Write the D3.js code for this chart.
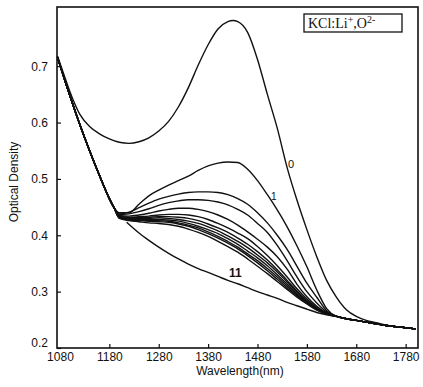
<!DOCTYPE html>
<html>
<head>
<meta charset="UTF-8">
<style>
  body { margin: 0; background: #fff; }
  svg text { font-family: "Liberation Sans", Arial, sans-serif; fill: #111; }
  .curve { fill: none; stroke: #111; stroke-width: 1.4px; }
</style>
<script src="https://cdn.jsdelivr.net/npm/d3@7/dist/d3.min.js"></script>
</head>
<body>
<svg width="423" height="387"></svg>
<script>
// shared steep wing (all curves 1..11) and shared tail
var wlWing = [1075, 1100, 1120, 1140, 1160, 1180, 1190];
var odWing = [0.716, 0.648, 0.597, 0.550, 0.506, 0.465, 0.448];
var wlTail = [1660, 1680, 1700, 1720, 1740, 1760, 1780, 1800];
var odTail = [0.252, 0.249, 0.246, 0.243, 0.240, 0.238, 0.236, 0.234];

// middle part of curves 1..11
var wlMid = [1200, 1220, 1240, 1260, 1280, 1300, 1320, 1340, 1360, 1380, 1400, 1420,
             1440, 1460, 1480, 1500, 1520, 1540, 1560, 1580, 1600, 1620, 1640];
var od1  = [0.440, 0.440, 0.455, 0.470, 0.480, 0.489, 0.497, 0.505, 0.515, 0.523, 0.528, 0.530,
            0.529, 0.517, 0.497, 0.472, 0.445, 0.415, 0.381, 0.344, 0.303, 0.270, 0.256];
var od2  = [0.438, 0.441, 0.449, 0.457, 0.464, 0.469, 0.473, 0.476, 0.477, 0.477, 0.476, 0.472,
            0.465, 0.455, 0.440, 0.422, 0.400, 0.375, 0.345, 0.315, 0.290, 0.266, 0.256];
var od3  = [0.437, 0.438, 0.442, 0.447, 0.453, 0.458, 0.461, 0.463, 0.463, 0.462, 0.459, 0.454,
            0.446, 0.436, 0.421, 0.405, 0.382, 0.355, 0.326, 0.300, 0.280, 0.264, 0.256];
var od4  = [0.435, 0.434, 0.436, 0.439, 0.443, 0.446, 0.448, 0.448, 0.446, 0.442, 0.436, 0.428,
            0.418, 0.406, 0.393, 0.379, 0.362, 0.340, 0.313, 0.291, 0.274, 0.262, 0.256];
var od5  = [0.434, 0.432, 0.433, 0.434, 0.436, 0.437, 0.437, 0.436, 0.433, 0.428, 0.421, 0.413,
            0.404, 0.394, 0.380, 0.364, 0.346, 0.326, 0.305, 0.287, 0.272, 0.262, 0.256];
var od6  = [0.433, 0.431, 0.431, 0.432, 0.433, 0.433, 0.432, 0.430, 0.426, 0.420, 0.413, 0.405,
            0.395, 0.384, 0.371, 0.356, 0.339, 0.320, 0.301, 0.284, 0.271, 0.262, 0.256];
var od7  = [0.432, 0.430, 0.430, 0.430, 0.431, 0.430, 0.428, 0.425, 0.421, 0.415, 0.408, 0.399,
            0.389, 0.378, 0.365, 0.351, 0.335, 0.317, 0.299, 0.283, 0.270, 0.261, 0.256];
var od8  = [0.432, 0.429, 0.428, 0.428, 0.428, 0.427, 0.425, 0.421, 0.416, 0.410, 0.403, 0.394,
            0.384, 0.372, 0.360, 0.346, 0.330, 0.313, 0.296, 0.281, 0.269, 0.261, 0.256];
var od9  = [0.431, 0.428, 0.427, 0.426, 0.426, 0.425, 0.422, 0.418, 0.413, 0.406, 0.398, 0.389,
            0.379, 0.367, 0.355, 0.341, 0.326, 0.310, 0.294, 0.280, 0.269, 0.261, 0.256];
var od10 = [0.431, 0.427, 0.426, 0.425, 0.424, 0.423, 0.420, 0.416, 0.410, 0.403, 0.395, 0.386,
            0.376, 0.364, 0.351, 0.337, 0.322, 0.307, 0.292, 0.279, 0.268, 0.260, 0.256];
var od11 = [0.430, 0.426, 0.424, 0.422, 0.421, 0.419, 0.416, 0.411, 0.405, 0.398, 0.389, 0.380,
            0.370, 0.358, 0.345, 0.332, 0.318, 0.304, 0.290, 0.278, 0.267, 0.260, 0.256];

// curve 0 (before bleaching), full range
var wl0 = [1075, 1090, 1100, 1120, 1140, 1160, 1180, 1200, 1220, 1240, 1260, 1280, 1300, 1320,
           1340, 1360, 1380, 1400, 1420, 1430, 1440, 1460, 1480, 1500, 1520, 1540, 1560, 1580,
           1600, 1620, 1640, 1660, 1680, 1700, 1720, 1740, 1760, 1780, 1800];
var od0 = [0.718, 0.680, 0.655, 0.615, 0.593, 0.580, 0.571, 0.565, 0.563, 0.566, 0.573, 0.585,
           0.602, 0.628, 0.662, 0.702, 0.738, 0.766, 0.779, 0.781, 0.779, 0.760, 0.712, 0.650,
           0.590, 0.520, 0.462, 0.410, 0.362, 0.320, 0.290, 0.268, 0.256, 0.249, 0.245, 0.241,
           0.238, 0.236, 0.234];

// lowest curve (background)
var wlBase = [1215, 1240, 1260, 1280, 1300, 1320, 1340, 1360, 1380, 1400, 1420, 1440,
              1460, 1480, 1500, 1520, 1540, 1560, 1580, 1600, 1620, 1640];
var odBase = [0.423, 0.404, 0.391, 0.379, 0.368, 0.358, 0.349, 0.341, 0.334, 0.327, 0.320, 0.314,
              0.307, 0.300, 0.294, 0.288, 0.281, 0.275, 0.269, 0.263, 0.259, 0.256];

var xTicks = [1080, 1180, 1280, 1380, 1480, 1580, 1680, 1780];
var yTicks = [0.2, 0.3, 0.4, 0.5, 0.6, 0.7];

var svg = d3.select("svg");
var x = d3.scaleLinear().domain([1074, 1805]).range([57, 418]);
var y = d3.scaleLinear().domain([0.2, 0.805]).range([348, 7]);

function pts(wl, od) { return wl.map(function(w, i) { return [w, od[i]]; }); }

var series = [od1, od2, od3, od4, od5, od6, od7, od8, od9, od10, od11].map(function(mid) {
  return pts(wlWing, odWing).concat(pts(wlMid, mid), pts(wlTail, odTail));
});
series.push(pts(wl0, od0));
series.push(pts(wlBase, odBase));

var line = d3.line()
  .x(function(d) { return x(d[0]); })
  .y(function(d) { return y(d[1]); })
  .curve(d3.curveMonotoneX);

svg.append("g").selectAll("path")
  .data(series)
  .enter().append("path")
  .attr("class", "curve")
  .attr("d", line);

// axes with inward ticks
var xAxis = svg.append("g").attr("transform", "translate(0,348)")
  .call(d3.axisBottom(x).tickValues(xTicks).tickSizeInner(-4).tickSizeOuter(0).tickPadding(4)
    .tickFormat(d3.format("d")));
var yAxis = svg.append("g").attr("transform", "translate(57,0)")
  .call(d3.axisLeft(y).tickValues(yTicks).tickSizeInner(-4).tickSizeOuter(0).tickPadding(9)
    .tickFormat(d3.format(".1f")));
[xAxis, yAxis].forEach(function(a) {
  a.select(".domain").remove();
  a.selectAll("line").attr("stroke", "#111").attr("stroke-width", 1.2);
  a.selectAll("text").style("font-size", "12px").attr("fill", "#111");
});
xAxis.selectAll(".tick").filter(function(d) { return d === 1080; }).select("line").remove();
yAxis.selectAll(".tick").filter(function(d) { return d === 0.2; }).select("text").attr("dy", "-0.1em");

// frame
svg.append("rect")
  .attr("x", 57).attr("y", 7).attr("width", 361).attr("height", 341)
  .attr("fill", "none").attr("stroke", "#111").attr("stroke-width", 1.6);

// axis titles
svg.append("text")
  .attr("x", 240).attr("y", 375)
  .attr("text-anchor", "middle")
  .style("font-size", "12px")
  .text("Wavelength(nm)");
svg.append("text")
  .attr("transform", "translate(18,182) rotate(-90)")
  .attr("text-anchor", "middle")
  .style("font-size", "12px")
  .text("Optical Density");

// curve labels
svg.append("text").attr("x", 288).attr("y", 168).style("font-size", "11px").text("0");
svg.append("text").attr("x", 271).attr("y", 200).style("font-size", "10px").text("1");
svg.append("text").attr("x", 229).attr("y", 277).style("font-size", "12px")
  .style("font-weight", "bold").text("11");

// sample label box
svg.append("rect")
  .attr("x", 304).attr("y", 14).attr("width", 98).attr("height", 18)
  .attr("fill", "#fff").attr("stroke", "#111").attr("stroke-width", 1.3);
var lab = svg.append("text")
  .attr("x", 308).attr("y", 28)
  .style("font-family", "'Liberation Serif', 'Times New Roman', serif")
  .style("font-size", "14px");
lab.append("tspan").text("KCl:Li");
lab.append("tspan").attr("dy", -5).style("font-size", "10px").text("+");
lab.append("tspan").attr("dy", 5).text(",O");
lab.append("tspan").attr("dy", -5).style("font-size", "10px").text("2-");
</script>
</body>
</html>
